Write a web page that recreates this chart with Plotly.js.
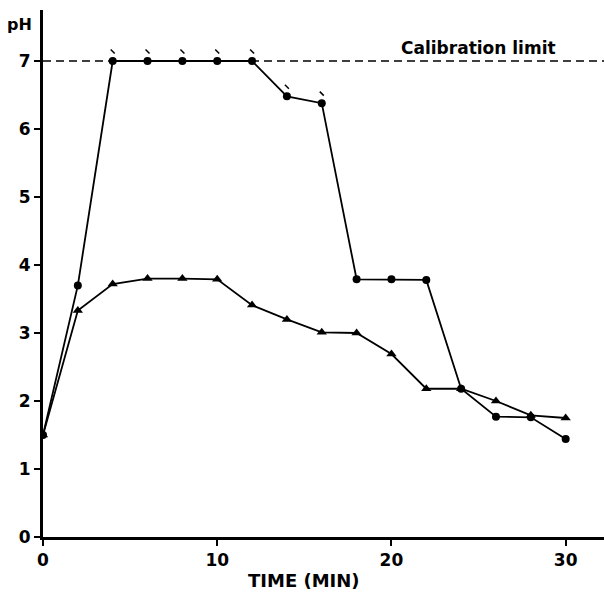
<!DOCTYPE html>
<html>
<head>
<meta charset="utf-8">
<script src="https://cdn.plot.ly/plotly-3.0.1.min.js"></script>
<style>html,body{margin:0;padding:0;background:#fff;}#chart{width:604px;height:592px;}</style>
</head>
<body>
<div id="chart"></div>
<script>
// Data
const timeCircles = [0, 2, 4, 6, 8, 10, 12, 14, 16, 18, 20, 22, 24, 26, 28, 30];
const phCircles   = [1.5, 3.7, 7.0, 7.0, 7.0, 7.0, 7.0, 6.48, 6.38, 3.79, 3.79, 3.78, 2.18, 1.77, 1.76, 1.44];
const timeTriangles = [0, 2, 4, 6, 8, 10, 12, 14, 16, 18, 20, 22, 24, 26, 28, 30];
const phTriangles   = [1.5, 3.33, 3.72, 3.8, 3.8, 3.79, 3.41, 3.2, 3.01, 3.0, 2.69, 2.18, 2.18, 2.0, 1.79, 1.75];
const offScaleTimes = [4, 6, 8, 10, 12, 14, 16];
const calibrationLimit = 7;
const calibrationLabel = 'Calibration limit';
const xTicks = [0, 10, 20, 30];
const yTicks = [0, 1, 2, 3, 4, 5, 6, 7];
const xTitle = 'TIME (MIN)';
const yTitle = 'pH';

const font = {family: 'DejaVu Sans, Arial, sans-serif', size: 17, color: '#000', weight: 700};

const offX = offScaleTimes;
const offY = offScaleTimes.map(t => phCircles[timeCircles.indexOf(t)] + 0.14);

const traces = [
  {x: timeCircles, y: phCircles, mode: 'lines+markers', type: 'scatter',
   line: {color: '#000', width: 1.8}, marker: {symbol: 'circle', size: 8, color: '#000'}, hoverinfo: 'none'},
  {x: timeTriangles, y: phTriangles, mode: 'lines+markers', type: 'scatter',
   line: {color: '#000', width: 1.8}, marker: {symbol: 'triangle-up', size: 9, color: '#000'}, hoverinfo: 'none'},
  {x: offX, y: offY, mode: 'markers', type: 'scatter',
   marker: {symbol: 'line-nw', size: 4, color: '#000', line: {color: '#000', width: 1.5}}, hoverinfo: 'none'}
];

const layout = {
  width: 604, height: 592,
  margin: {l: 43, r: 0, t: 10, b: 55},
  paper_bgcolor: '#fff', plot_bgcolor: '#fff',
  showlegend: false,
  font: font,
  xaxis: {
    range: [0, 32.2], tickvals: xTicks, ticktext: xTicks.map(String),
    showgrid: false, zeroline: false, showline: true, linecolor: '#000', linewidth: 2.5,
    ticks: 'outside', ticklen: 6, tickwidth: 2, tickcolor: '#000',
    tickfont: font, fixedrange: true
  },
  yaxis: {
    range: [0, 7.75], tickvals: yTicks, ticktext: yTicks.map(String),
    showgrid: false, zeroline: false, showline: true, linecolor: '#000', linewidth: 3,
    ticks: 'outside', ticklen: 6, tickwidth: 2, tickcolor: '#000',
    tickfont: font, fixedrange: true
  },
  shapes: [
    {type: 'line', xref: 'paper', x0: 0, x1: 1, yref: 'y', y0: calibrationLimit, y1: calibrationLimit,
     line: {color: '#000', width: 1.5, dash: '8px,5px'}}
  ],
  annotations: [
    {xref: 'x', x: 25, yref: 'y', y: calibrationLimit, yshift: 13, yanchor: 'middle', xanchor: 'center',
     text: calibrationLabel, showarrow: false, font: Object.assign({}, font, {size: 17})},
    {xref: 'x', x: 15, yref: 'paper', y: 0, yshift: -43, yanchor: 'middle', xanchor: 'center',
     text: xTitle, showarrow: false, font: Object.assign({}, font, {size: 18})},
    {xref: 'paper', x: 0, xshift: -9, xanchor: 'right', yref: 'paper', y: 1, yshift: -14, yanchor: 'middle',
     text: yTitle, showarrow: false, font: Object.assign({}, font, {size: 16})}
  ]
};

Plotly.newPlot('chart', traces, layout, {displayModeBar: false, staticPlot: true});
</script>
</body>
</html>
